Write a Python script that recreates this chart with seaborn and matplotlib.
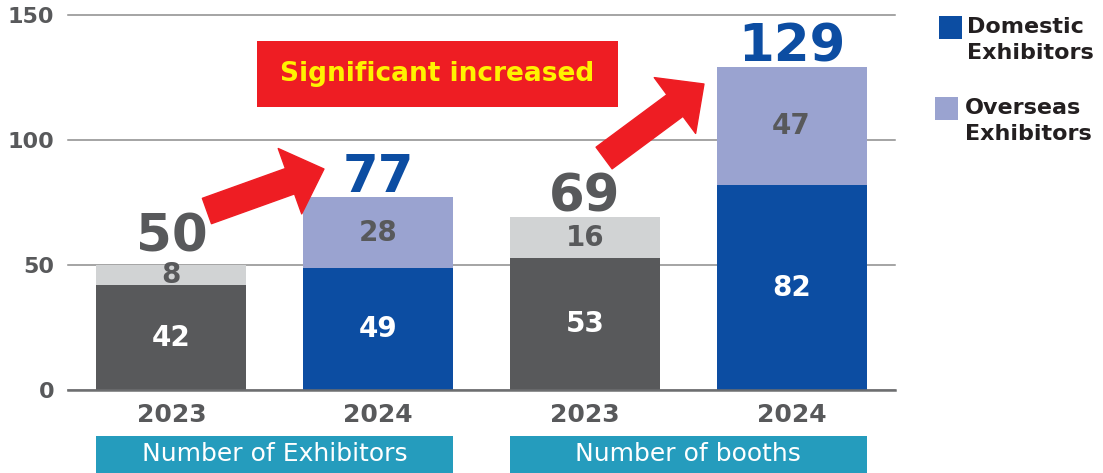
import matplotlib
matplotlib.use("Agg")
import matplotlib.pyplot as plt
import seaborn as sns
import pandas as pd
from matplotlib.patches import Rectangle, FancyArrowPatch, ArrowStyle

# ---- data ----
bar_ids = ["ex2023", "ex2024", "bo2023", "bo2024"]
years = ["2023", "2024", "2023", "2024"]
groups = ["Number of Exhibitors", "Number of booths"]
domestic = [42, 49, 53, 82]
overseas = [8, 28, 16, 47]
yticks = [0, 50, 100, 150]
legend_labels = ["Domestic\nExhibitors", "Overseas\nExhibitors"]
callout = "Significant increased"

plt.rcParams["font.family"] = ["DejaVu Sans"]

df = pd.DataFrame({"bar": bar_ids, "year": years,
                   "domestic": domestic, "overseas": overseas})
df["total"] = df["domestic"] + df["overseas"]

DARK = "#58595b"
LIGHT = "#d1d3d4"
BLUE = "#0c4da2"
LAV = "#9aa3d0"
TEAL = "#259cbd"
RED = "#ee1d23"
YEL = "#fff200"
TXT = "#58595b"

bottom_colors = [DARK, BLUE, DARK, BLUE]
top_colors = [LIGHT, LAV, LIGHT, LAV]
W = 0.725

fig = plt.figure(figsize=(11.03, 4.73), dpi=100)
ax = fig.add_axes([68 / 1103, 83 / 473, 827 / 1103, 375 / 473])

sns.barplot(data=df, x="bar", y="total", hue="bar", palette=top_colors,
            width=W, legend=False, ax=ax, saturation=1, zorder=2)
sns.barplot(data=df, x="bar", y="domestic", hue="bar", palette=bottom_colors,
            width=W, legend=False, ax=ax, saturation=1, zorder=2)

ax.set_xlim(-0.5, 3.5)
ax.set_ylim(0, 150)
ax.set_yticks(yticks)
ax.set_yticklabels([str(v) for v in yticks], fontsize=16, fontweight="bold", color=TXT)
ax.set_xticks(range(len(years)))
ax.set_xticklabels(years, fontsize=18, fontweight="bold", color=TXT)
ax.tick_params(axis="both", length=0)
ax.tick_params(axis="y", pad=10)
ax.tick_params(axis="x", pad=9)
ax.set_xlabel("")
ax.set_ylabel("")
for s in ax.spines.values():
    s.set_visible(False)
ax.yaxis.grid(True, color="#8c8c8c", lw=1.1, zorder=0)
ax.set_axisbelow(True)
for gl in ax.get_ygridlines():
    gl.set_clip_on(False)
ax.axhline(0, color="#6d6e70", lw=1.8, zorder=3, clip_on=False)

# segment labels
for i, (d, o) in enumerate(zip(domestic, overseas)):
    ax.text(i, d / 2, str(d), ha="center", va="center", fontsize=20,
            fontweight="bold", color="white", zorder=4)
    ax.text(i, d + o / 2, str(o), ha="center", va="center", fontsize=20,
            fontweight="bold", color=TXT, zorder=4)
    t = d + o
    off = 10 if o < 10 else 4
    ax.annotate(str(t), (i, t), xytext=(0, off), textcoords="offset points",
                ha="center", va="baseline", fontsize=37, fontweight="bold",
                color=BLUE if i % 2 else TXT, zorder=4)

# group boxes under the year labels
for g, name in enumerate(groups):
    x0 = 2 * g - W / 2
    x1 = 2 * g + 1 + W / 2
    ax.add_patch(Rectangle((x0, -36), x1 - x0, 17.6, facecolor=TEAL,
                           edgecolor="none", clip_on=False, zorder=3))
    ax.text((x0 + x1) / 2, -25.6, name, ha="center", va="center",
            fontsize=18, color="white", clip_on=False, zorder=4)

# red arrows
style = ArrowStyle.Simple(head_length=1.3, head_width=2.5, tail_width=0.97)
for (p0, p1) in [((0.172, 71.6), (0.738, 88.4)), ((2.093, 92.8), (2.576, 122.4))]:
    ax.add_patch(FancyArrowPatch(p0, p1, arrowstyle=style, mutation_scale=20,
                                 color=RED, shrinkA=0, shrinkB=0, zorder=5,
                                 clip_on=False))

# callout box
ax.add_patch(Rectangle((0.414, 113.2), 1.746, 26.4, facecolor=RED,
                       edgecolor="none", zorder=5))
ax.text(1.287, 126.4, callout, ha="center", va="center", fontsize=19,
        fontweight="bold", color=YEL, zorder=6)

# legend (manual)
leg = [(BLUE, 939, 16, 967), (LAV, 935, 97, 965)]
for (col, sx, sy, tx), lab in zip(leg, legend_labels):
    fig.patches.append(Rectangle((sx / 1103, 1 - (sy + 23) / 473), 23 / 1103, 23 / 473,
                                 transform=fig.transFigure, facecolor=col,
                                 edgecolor="none"))
    fig.text(tx / 1103, 1 - (sy + 1) / 473, lab, ha="left", va="top",
             fontsize=16, fontweight="bold", color="#231f20", linespacing=1.4)

fig.savefig("out.png", dpi=100)
